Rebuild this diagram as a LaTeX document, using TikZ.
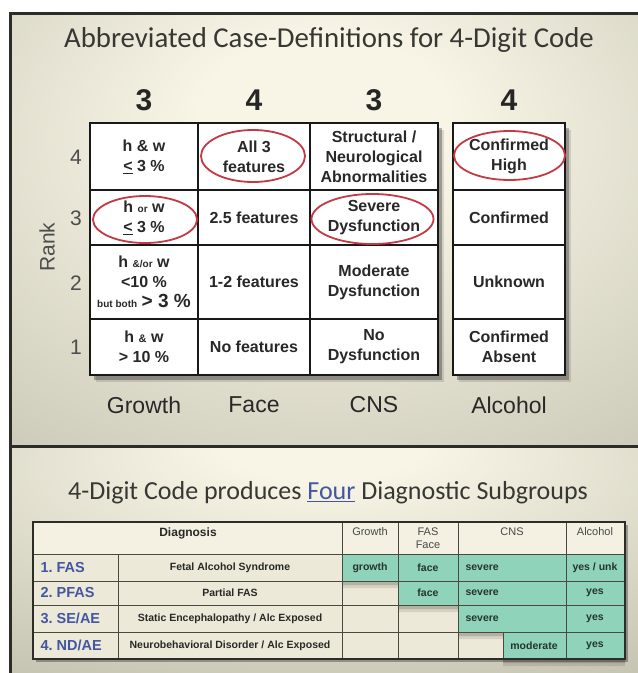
\documentclass[tikz,border=0pt]{standalone}
\usepackage{fontspec}
\setmainfont{Liberation Sans}
\newfontfamily\calib{Carlito}
\usetikzlibrary{shadows}
\definecolor{bginner}{RGB}{248,245,230}
\definecolor{bgouter}{RGB}{182,180,162}
\definecolor{framecol}{RGB}{44,44,40}
\definecolor{txtcol}{RGB}{40,40,40}
\definecolor{titlecol}{RGB}{55,55,52}
\definecolor{ovalred}{RGB}{196,58,68}
\definecolor{tealcol}{RGB}{142,211,186}
\definecolor{dxblue}{RGB}{66,86,162}
\definecolor{tlinecol}{RGB}{72,74,64}
\definecolor{headcol}{RGB}{244,241,227}
\definecolor{bodycol}{RGB}{236,233,216}
\definecolor{tealtxt}{RGB}{38,52,46}
\pgfdeclareradialshading{bgtop}{\pgfpoint{0bp}{14bp}}{color(0bp)=(bginner); color(10bp)=(bginner); color(58bp)=(bgouter); color(90bp)=(bgouter)}
\pgfdeclareradialshading{bgbot}{\pgfpoint{0bp}{28bp}}{color(0bp)=(bginner); color(8bp)=(bginner); color(58bp)=(bgouter); color(90bp)=(bgouter)}
\tikzset{
  gcell/.style={draw=black!90, line width=2.2pt, fill=white, inner sep=0pt, align=center, text=txtcol, font=\bfseries\fontsize{16}{20}\selectfont},
  oval/.style={draw=ovalred, line width=1.8pt},
  ranknum/.style={text=black!70, font=\fontsize{21}{21}\selectfont},
  collabel/.style={text=txtcol, font=\fontsize{23}{23}\selectfont},
  digit/.style={text=black!85, font=\bfseries\fontsize{30}{30}\selectfont},
  titletext/.style={text=titlecol, font=\calib\fontsize{28.8}{30}\selectfont},
  subtext/.style={text=titlecol, font=\calib\fontsize{26}{28}\selectfont},
  tline/.style={draw=tlinecol, line width=0.9pt},
  thead/.style={text=black!72, font=\fontsize{11}{12.5}\selectfont, align=center},
  dxlab/.style={text=dxblue, font=\bfseries\fontsize{14.5}{15}\selectfont, anchor=west},
  dxname/.style={text=txtcol, font=\bfseries\fontsize{10.5}{12}\selectfont},
  tealtext/.style={text=tealtxt, font=\bfseries\fontsize{10.5}{12}\selectfont},
  gshadow/.style={drop shadow={shadow xshift=6pt, shadow yshift=-7pt, opacity=0.12, fill=black},
                  drop shadow={shadow xshift=3.5pt, shadow yshift=-4.5pt, opacity=0.28, fill=black}},
  tshadow/.style={drop shadow={shadow xshift=0pt, shadow yshift=-7pt, opacity=0.1, fill=black},
                  drop shadow={shadow xshift=0pt, shadow yshift=-4pt, opacity=0.15, fill=black}}
}
\begin{document}
\begin{tikzpicture}[x=1pt,y=-1pt]
\useasboundingbox (0,0) rectangle (638,673);
\fill[white] (0,0) rectangle (638,673);
% backgrounds
\shade[shading=bgtop] (10,13) rectangle (638,446);
\shade[shading=bgbot] (10,446) rectangle (638,673);
\draw[framecol, line width=3pt] (638,13.5) -- (10.5,13.5) -- (10.5,673);
\draw[framecol, line width=3pt] (10.5,446) -- (638,446);

% title and digits
\node[titletext] (title) at (329,40) {Abbreviated Case-Definitions for 4-Digit Code};
\node[digit] (dg) at (144,100) {3};
\node[digit] (df) at (254,100) {4};
\node[digit] (dc) at (374,100) {3};
\node[digit] (da) at (509,100) {4};

% shadows behind grid
\path[fill=white, gshadow] (90,123) rectangle (438,375);
\path[fill=white, gshadow] (453,123) rectangle (565,375);

% growth column
\node[gcell, minimum width=108pt, minimum height=67pt] (g4) at (144,156.5) {h \& w\\\underline{<} 3 \%};
\node[gcell, minimum width=108pt, minimum height=55pt] (g3) at (144,217.5) {h {\fontsize{10}{12}\selectfont or} w\\\underline{<} 3 \%};
\node[gcell, minimum width=108pt, minimum height=74pt] (g2) at (144,282) {h {\fontsize{10}{12}\selectfont \&/or} w\\<10 \%\\{\fontsize{10}{12}\selectfont but both} {\fontsize{19}{20}\selectfont > 3 \%}};
\node[gcell, minimum width=108pt, minimum height=56pt] (g1) at (144,347) {h {\fontsize{11}{12}\selectfont \&} w\\> 10 \%};
% face column
\node[gcell, minimum width=112pt, minimum height=67pt] (f4) at (254,156.5) {All 3\\features};
\node[gcell, minimum width=112pt, minimum height=55pt] (f3) at (254,217.5) {2.5 features};
\node[gcell, minimum width=112pt, minimum height=74pt] (f2) at (254,282) {1-2 features};
\node[gcell, minimum width=112pt, minimum height=56pt] (f1) at (254,347) {No features};
% CNS column
\node[gcell, minimum width=128pt, minimum height=67pt] (c4) at (374,156.5) {Structural /\\Neurological\\Abnormalities};
\node[gcell, minimum width=128pt, minimum height=55pt] (c3) at (374,217.5) {Severe\\Dysfunction};
\node[gcell, minimum width=128pt, minimum height=74pt] (c2) at (374,282) {Moderate\\Dysfunction};
\node[gcell, minimum width=128pt, minimum height=56pt] (c1) at (374,347) {No\\Dysfunction};
% alcohol column
\node[gcell, minimum width=112pt, minimum height=67pt] (a4) at (509,156.5) {Confirmed\\High};
\node[gcell, minimum width=112pt, minimum height=55pt] (a3) at (509,217.5) {Confirmed};
\node[gcell, minimum width=112pt, minimum height=74pt] (a2) at (509,282) {Unknown};
\node[gcell, minimum width=112pt, minimum height=56pt] (a1) at (509,347) {Confirmed\\Absent};

% red ovals
\draw[oval] (253,156) ellipse (52pt and 26pt);
\draw[oval] (145,219.5) ellipse (52pt and 23.5pt);
\draw[oval] (372.5,219) ellipse (61pt and 25pt);
\draw[oval] (509.5,155.5) ellipse (55.5pt and 24.5pt);

% rank labels
\node[ranknum] (r4) at (76,157) {4};
\node[ranknum] (r3) at (76,218) {3};
\node[ranknum] (r2) at (76,283) {2};
\node[ranknum] (r1) at (76,347) {1};
\node[ranknum, rotate=90] (rank) at (47,247) {Rank};

% column labels
\node[collabel] (lg) at (144,405) {Growth};
\node[collabel] (lf) at (254,405) {Face};
\node[collabel] (lc) at (374,405) {CNS};
\node[collabel] (la) at (509,405) {Alcohol};

% subtitle
\node[subtext] (subtitle) at (328,493) {4-Digit Code produces \textcolor{dxblue}{\underline{Four}} Diagnostic Subgroups};

% bottom table
\path[fill=bodycol, drop shadow={shadow xshift=3pt, shadow yshift=-3pt, opacity=0.3, fill=black}] (33,522) rectangle (625,659);
\fill[headcol] (33,522) rectangle (625,554);
\fill[tealcol, tshadow]
  (342,554) -- (625,554) -- (625,659) -- (503,659) -- (503,632) -- (458,632) -- (458,605)
  -- (398,605) -- (398,581) -- (342,581) -- cycle;
\foreach \yy in {554,581,605,632} \draw[tline] (33,\yy) -- (625,\yy);
\draw[tline] (118,554) -- (118,659);
\foreach \xx in {342,398,458,566} \draw[tline] (\xx,522) -- (\xx,659);
\draw[tline] (503,632) -- (503,659);
\draw[framecol, line width=2pt] (33,522) rectangle (625,659);

\node[dxname, font=\bfseries\fontsize{12}{14}\selectfont] (hdiag) at (188,533) {Diagnosis};
\node[thead] (hgrowth) at (370,532) {Growth};
\node[thead] (hface) at (428,538) {FAS\\Face};
\node[thead] (hcns) at (512,532) {CNS};
\node[thead] (halc) at (595,532) {Alcohol};

\node[dxlab] (n1) at (37,567.5) {1.\ FAS};
\node[dxlab] (n2) at (37,593) {2.\ PFAS};
\node[dxlab] (n3) at (37,618.5) {3.\ SE/AE};
\node[dxlab] (n4) at (37,645.5) {4.\ ND/AE};
\node[dxname] (m1) at (230,567.5) {Fetal Alcohol Syndrome};
\node[dxname] (m2) at (230,593) {Partial FAS};
\node[dxname] (m3) at (230,618.5) {Static Encephalopathy / Alc Exposed};
\node[dxname] (m4) at (230,645.5) {Neurobehavioral Disorder / Alc Exposed};

\node[tealtext] (t1g) at (370,567.5) {growth};
\node[tealtext] (t1f) at (428,567.5) {face};
\node[tealtext, anchor=west] (t1c) at (462,567.5) {severe};
\node[tealtext] (t1a) at (595,567.5) {yes / unk};
\node[tealtext] (t2f) at (428,593) {face};
\node[tealtext, anchor=west] (t2c) at (462,593) {severe};
\node[tealtext] (t2a) at (595,593) {yes};
\node[tealtext, anchor=west] (t3c) at (462,618.5) {severe};
\node[tealtext] (t3a) at (595,618.5) {yes};
\node[tealtext] (t4c) at (534,645.5) {moderate};
\node[tealtext] (t4a) at (595,645.5) {yes};
\end{tikzpicture}
\end{document}
